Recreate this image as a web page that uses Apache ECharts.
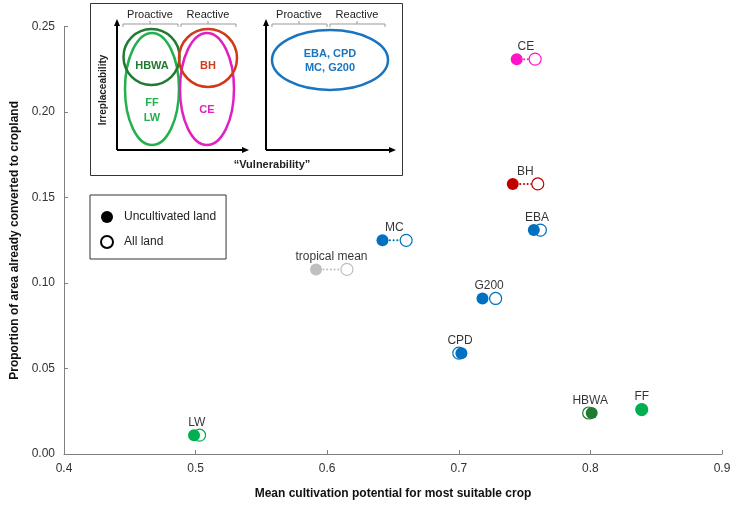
<!DOCTYPE html>
<html><head><meta charset="utf-8">
<script src="https://cdn.jsdelivr.net/npm/echarts@6/dist/echarts.min.js"></script>
<style>html,body{margin:0;padding:0;background:#fff}#c{width:734px;height:505px}</style>
</head><body><div id="c"></div>
<script>
// ---- data ----
const groups = ['CE', 'BH', 'EBA', 'MC', 'tropical mean', 'G200', 'CPD', 'HBWA', 'FF', 'LW'];
const uncultivatedPotential = [0.744, 0.741, 0.757, 0.642, 0.5915, 0.718, 0.702, 0.801, 0.839, 0.4988];
const allLandPotential      = [0.758, 0.760, 0.762, 0.660, 0.615, 0.728, 0.700, 0.7987, 0.839, 0.503];
const convertedShare        = [0.231, 0.158, 0.131, 0.125, 0.108, 0.091, 0.059, 0.024, 0.026, 0.011];
const xTickValues = [0.4, 0.5, 0.6, 0.7, 0.8, 0.9];
const yTickValues = [0.00, 0.05, 0.10, 0.15, 0.20, 0.25];
const legendNames = ['Uncultivated land', 'All land'];
// ---- styles ----
const groupColors = ['#ff14c8', '#c00000', '#0070c0', '#0070c0', '#bfbfbf', '#0070c0', '#0070c0', '#1e7b30', '#00b050', '#00b050'];

const FONT = 'Liberation Sans, Arial, sans-serif';
const axisGray = '#808080';

const series = [];
groups.forEach((g, i) => {
  series.push({
    type: 'line', silent: true, symbol: 'none', z: 1,
    data: [[uncultivatedPotential[i], convertedShare[i]], [allLandPotential[i], convertedShare[i]]],
    lineStyle: { color: groupColors[i], width: 2, type: [0.1, 3.6], cap: 'round' }
  });
});
series.push({
  name: legendNames[1], type: 'scatter', symbol: 'circle', symbolSize: 12, z: 2,
  itemStyle: { color: '#fff', borderColor: '#000', borderWidth: 1, opacity: 1 },
  data: groups.map((g, i) => ({ value: [allLandPotential[i], convertedShare[i]], itemStyle: { color: '#fff', borderColor: groupColors[i], borderWidth: 1.2 } }))
});
series.push({
  name: legendNames[0], type: 'scatter', symbol: 'circle', symbolSize: 12, z: 3,
  itemStyle: { color: '#000', opacity: 1 },
  data: groups.map((g, i) => ({ value: [uncultivatedPotential[i], convertedShare[i]], itemStyle: { color: groupColors[i] } }))
});
series.push({
  type: 'scatter', silent: true, symbolSize: 1, z: 4, itemStyle: { color: 'rgba(255,255,255,0)' },
  label: { show: true, position: 'top', distance: 6, color: '#000', textBorderWidth: 0, textBorderColor: 'transparent',
           fontSize: 12, fontFamily: FONT, formatter: p => p.name },
  data: groups.map((g, i) => ({ name: g, value: [(uncultivatedPotential[i] + allLandPotential[i]) / 2, convertedShare[i]] }))
});

// ---- inset schematic (decoration) ----
const insetText = (x, y, t, color, bold, size) => ({
  type: 'text', x: x, y: y, z: 20,
  style: { text: t, fill: color, font: (bold ? 'bold ' : '') + (size || 11) + 'px ' + FONT, textAlign: 'center', textVerticalAlign: 'middle' }
});
const bracket = (x1, x2, y) => ({
  type: 'polyline', z: 20, shape: { points: [[x1, y + 3], [x1, y], [x2, y], [x2, y + 3]] }, style: { stroke: '#999', lineWidth: 1, fill: null }
});
const bracketTick = (x, y) => ({ type: 'line', z: 20, shape: { x1: x, y1: y, x2: x, y2: y - 3 }, style: { stroke: '#999', lineWidth: 1 } });
const ell = (cx, cy, rx, ry, color) => ({ type: 'ellipse', z: 19, shape: { cx, cy, rx, ry }, style: { fill: null, stroke: color, lineWidth: 2.5 } });
const axisLine = (x1, y1, x2, y2) => ({ type: 'line', z: 20, shape: { x1, y1, x2, y2 }, style: { stroke: '#000', lineWidth: 2 } });
const arrow = pts => ({ type: 'polygon', z: 20, shape: { points: pts }, style: { fill: '#000' } });

const graphic = [
  { type: 'rect', z: 18, shape: { x: 90.5, y: 3.5, width: 312, height: 172 }, style: { fill: '#fff', stroke: '#333', lineWidth: 1 } },
  axisLine(117, 150, 117, 25), arrow([[117, 19], [114, 26], [120, 26]]),
  axisLine(117, 150, 243, 150), arrow([[249, 150], [242, 147], [242, 153]]),
  axisLine(266, 150, 266, 25), arrow([[266, 19], [263, 26], [269, 26]]),
  axisLine(266, 150, 390, 150), arrow([[396, 150], [389, 147], [389, 153]]),
  insetText(150, 15, 'Proactive', '#222', false, 11), insetText(208, 15, 'Reactive', '#222', false, 11),
  insetText(299, 15, 'Proactive', '#222', false, 11), insetText(357, 15, 'Reactive', '#222', false, 11),
  bracket(123, 178, 24), bracketTick(150, 24), bracket(181, 236, 24), bracketTick(208, 24),
  bracket(272, 327, 24), bracketTick(299, 24), bracket(330, 385, 24), bracketTick(357, 24),
  ell(152, 89, 27, 56, '#22b14c'), ell(207, 89, 27, 56, '#e020c0'),
  ell(151.5, 57, 28, 28, '#217a31'), ell(208, 58, 29, 29, '#d03a1a'),
  ell(330, 60, 58, 30, '#1a75c0'),
  insetText(152, 66, 'HBWA', '#217a31', true, 11), insetText(208, 66, 'BH', '#d03a1a', true, 11),
  insetText(152, 103, 'FF', '#22b14c', true, 11), insetText(152, 118, 'LW', '#22b14c', true, 11),
  insetText(207, 110, 'CE', '#e020c0', true, 11),
  insetText(330, 54, 'EBA, CPD', '#1a75c0', true, 11), insetText(330, 68, 'MC, G200', '#1a75c0', true, 11),
  { type: 'text', x: 103, y: 90, rotation: Math.PI / 2, z: 20,
    style: { text: 'Irreplaceability', fill: '#222', font: 'bold 10px ' + FONT, textAlign: 'center', textVerticalAlign: 'middle' } },
  insetText(272, 165, '\u201cVulnerability\u201d', '#222', true, 11)
];

const chart = echarts.init(document.getElementById('c'), null, { renderer: 'canvas' });
chart.setOption({
  animation: false,
  backgroundColor: '#fff',
  grid: { left: 64, right: 12, top: 26.7, bottom: 49, containLabel: false },
  xAxis: {
    type: 'value', min: xTickValues[0], max: xTickValues[xTickValues.length - 1], interval: 0.1,
    name: 'Mean cultivation potential for most suitable crop', nameLocation: 'middle', nameGap: 34,
    nameTextStyle: { fontFamily: FONT, fontWeight: 'bold', fontSize: 12, color: '#111' },
    axisLine: { show: true, onZero: false, lineStyle: { color: axisGray, width: 1 } },
    axisTick: { show: true, inside: true, length: 4, lineStyle: { color: axisGray } },
    axisLabel: { fontFamily: FONT, fontSize: 12, color: '#333', margin: 9, formatter: v => v.toFixed(1) },
    splitLine: { show: false }
  },
  yAxis: {
    type: 'value', min: yTickValues[0], max: yTickValues[yTickValues.length - 1], interval: 0.05,
    name: 'Proportion of area already converted to cropland', nameLocation: 'middle', nameGap: 38,
    nameTextStyle: { fontFamily: FONT, fontWeight: 'bold', fontSize: 12, color: '#111' },
    axisLine: { show: true, lineStyle: { color: axisGray, width: 1 } },
    axisTick: { show: true, inside: true, length: 4, lineStyle: { color: axisGray } },
    axisLabel: { fontFamily: FONT, fontSize: 12, color: '#333', margin: 9, formatter: v => v.toFixed(2) },
    splitLine: { show: false }
  },
  legend: {
    data: legendNames, orient: 'vertical', left: 90, top: 195,
    backgroundColor: '#fff', borderColor: '#333', borderWidth: 1,
    padding: [16, 10, 10, 10], itemGap: 12, itemWidth: 12, itemHeight: 12,
    icon: 'circle', selectedMode: false,
    textStyle: { fontFamily: FONT, fontSize: 12, color: '#222', padding: [0, 0, 0, 6] }
  },
  series: series,
  graphic: graphic
});
</script>
</body></html>
